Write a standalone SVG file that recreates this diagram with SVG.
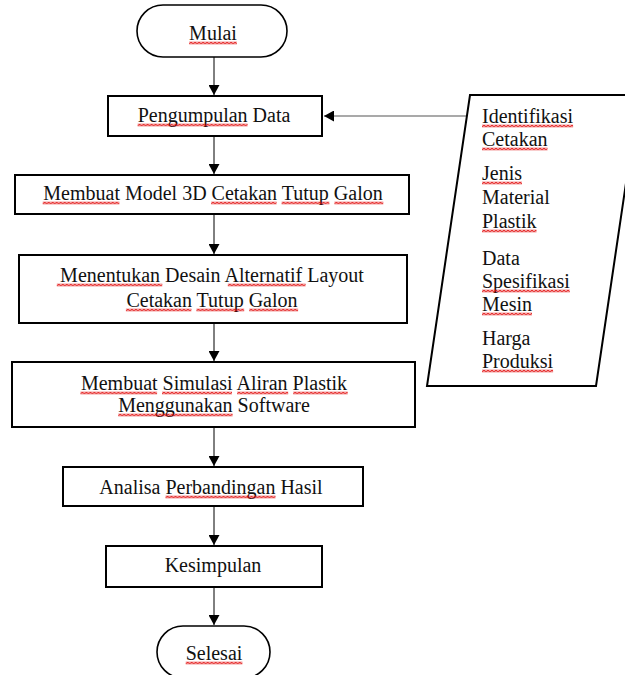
<svg xmlns="http://www.w3.org/2000/svg" width="625" height="675" viewBox="0 0 625 675">
<style>
.box{fill:#fff;stroke:#000;stroke-width:2}
.term{fill:#fff;stroke:#000;stroke-width:1.6}
.t{font-family:"Liberation Serif","Times New Roman",serif;font-size:20px;fill:#111}
.c{text-anchor:middle}
.w{fill:url(#wv)}
.ln{stroke:#000;stroke-width:1;fill:none}
</style>
<defs>
<marker id="ah" markerUnits="userSpaceOnUse" markerWidth="10" markerHeight="11" refX="10" refY="5.5" orient="auto">
<path d="M0,0 L10,5.5 L0,11 z" fill="#000"/>
</marker>
<pattern id="wv" patternUnits="userSpaceOnUse" x="0" y="0" width="4" height="3">
<path d="M-1,1.5 L0,2.5 L2,0.5 L4,2.5 L5,1.5" fill="none" stroke="#e00000" stroke-width="1.1"/>
</pattern>
</defs>
<rect width="625" height="675" fill="#fff"/>
<g id="connectors">
<line class="ln" x1="214" y1="57" x2="214" y2="95" marker-end="url(#ah)"/>
<line class="ln" x1="214" y1="136" x2="214" y2="174" marker-end="url(#ah)"/>
<line class="ln" x1="214" y1="214" x2="214" y2="254" marker-end="url(#ah)"/>
<line class="ln" x1="214" y1="323" x2="214" y2="361" marker-end="url(#ah)"/>
<line class="ln" x1="214" y1="427" x2="214" y2="466" marker-end="url(#ah)"/>
<line class="ln" x1="214" y1="506" x2="214" y2="545" marker-end="url(#ah)"/>
<line class="ln" x1="214" y1="587" x2="214" y2="625" marker-end="url(#ah)"/>
<line x1="472" y1="116" x2="324" y2="116" stroke="#555" stroke-width="1.2" marker-end="url(#ah)"/>
</g>
<g id="mulai">
<rect class="term" x="137" y="5" width="150" height="52" rx="26"/>
<text class="t c" x="213" y="40">Mulai</text>
<rect class="w" width="47.8" height="3" transform="translate(189.1,41.5)"/>
</g>
<g id="pengumpulan">
<rect class="box" x="108" y="96" width="214" height="40"/>
<text class="t c" x="214" y="122">Pengumpulan Data</text>
<rect class="w" width="110" height="3" transform="translate(137.6,123.5)"/>
</g>
<g id="model3d">
<rect class="box" x="15" y="175" width="394" height="39"/>
<text class="t c" x="213" y="200">Membuat Model 3D Cetakan Tutup Galon</text>
<rect class="w" width="76.7" height="3" transform="translate(42.7,201.5)"/>
<rect class="w" width="65.5" height="3" transform="translate(211.1,201.5)"/>
<rect class="w" width="47.8" height="3" transform="translate(281.6,201.5)"/>
<rect class="w" width="48.9" height="3" transform="translate(334.4,201.5)"/>
</g>
<g id="desain">
<rect class="box" x="19" y="255" width="388" height="68"/>
<text class="t c" x="212" y="282">Menentukan Desain Alternatif Layout</text>
<text class="t c" x="212" y="307">Cetakan Tutup Galon</text>
<rect class="w" width="105.5" height="3" transform="translate(56.8,283.5)"/>
<rect class="w" width="77.8" height="3" transform="translate(227.8,283.5)"/>
<rect class="w" width="65.5" height="3" transform="translate(125.9,308.5)"/>
<rect class="w" width="47.8" height="3" transform="translate(196.4,308.5)"/>
<rect class="w" width="48.9" height="3" transform="translate(249.2,308.5)"/>
</g>
<g id="simulasi">
<rect class="box" x="12" y="362" width="403" height="65"/>
<text class="t c" x="214" y="390">Membuat Simulasi Aliran Plastik</text>
<text class="t c" x="214" y="412">Menggunakan Software</text>
<rect class="w" width="76.7" height="3" transform="translate(80.4,391.5)"/>
<rect class="w" width="70" height="3" transform="translate(162,391.5)"/>
<rect class="w" width="51.1" height="3" transform="translate(237.1,391.5)"/>
<rect class="w" width="54.5" height="3" transform="translate(293.2,391.5)"/>
<rect class="w" width="114.4" height="3" transform="translate(118.2,413.5)"/>
</g>
<g id="analisa">
<rect class="box" x="63" y="467" width="300" height="39"/>
<text class="t c" x="211" y="494">Analisa Perbandingan Hasil</text>
<rect class="w" width="110" height="3" transform="translate(165.5,495.5)"/>
</g>
<g id="kesimpulan">
<rect class="box" x="106" y="546" width="216" height="41"/>
<text class="t c" x="213" y="572">Kesimpulan</text>
</g>
<g id="selesai">
<rect class="term" x="157" y="626" width="113" height="52" rx="26"/>
<text class="t c" x="214" y="660">Selesai</text>
<rect class="w" width="56.7" height="3" transform="translate(185.7,661.5)"/>
</g>
<g id="data-input">
<polygon class="box" points="470,95 639,95 596,386 427,386"/>
<text class="t" x="482" y="123">Identifikasi</text>
<text class="t" x="482" y="146">Cetakan</text>
<text class="t" x="482" y="180">Jenis</text>
<text class="t" x="482" y="204">Material</text>
<text class="t" x="482" y="228">Plastik</text>
<text class="t" x="482" y="265">Data</text>
<text class="t" x="482" y="288">Spesifikasi</text>
<text class="t" x="482" y="311">Mesin</text>
<text class="t" x="482" y="345">Harga</text>
<text class="t" x="482" y="368">Produksi</text>
<rect class="w" width="91.1" height="3" transform="translate(482,124.5)"/>
<rect class="w" width="65.5" height="3" transform="translate(482,147.5)"/>
<rect class="w" width="40" height="3" transform="translate(482,181.5)"/>
<rect class="w" width="54.5" height="3" transform="translate(482,229.5)"/>
<rect class="w" width="87.8" height="3" transform="translate(482,289.5)"/>
<rect class="w" width="50" height="3" transform="translate(482,312.5)"/>
<rect class="w" width="71.1" height="3" transform="translate(482,369.5)"/>
</g>
</svg>
